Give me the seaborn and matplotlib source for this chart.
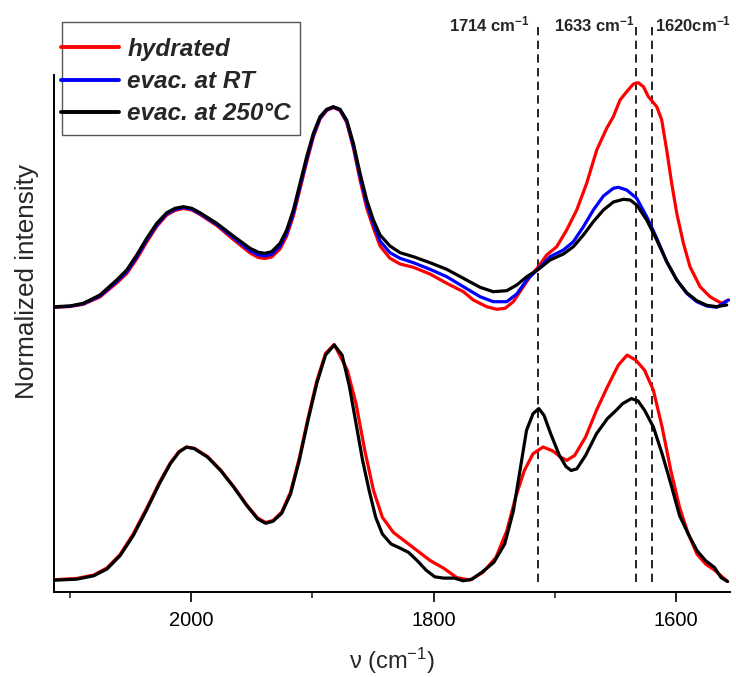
import numpy as np
import pandas as pd
import matplotlib
matplotlib.use("Agg")
import matplotlib.pyplot as plt
import seaborn as sns
from matplotlib.lines import Line2D
from matplotlib.patches import Rectangle
from matplotlib.ticker import FixedLocator
import matplotlib.transforms as mtransforms

# ---------------- data (wavenumber / normalized intensity) -------------
top_250_x = [2113, 2099.8, 2088.8, 2075.1, 2061.3, 2053, 2044.8, 2036.5, 2028.3, 2020, 2013.2, 2006.3,
             1999.4, 1992.6, 1978.8, 1965.1, 1951.3, 1944.5, 1939, 1933.5, 1926.6, 1921.1, 1915.6,
             1910.1, 1904.6, 1899.1, 1893.6, 1888.1, 1882.6, 1877.1, 1871.6, 1866.1, 1860.6, 1855.1,
             1849.6, 1844.1, 1835.9, 1827.6, 1816.6, 1802.9, 1789.1, 1775.4, 1761.6, 1750.7, 1739.6,
             1731.4, 1723.1, 1713.5, 1703.9, 1692.9, 1684.7, 1676.4, 1668.2, 1659.9, 1651.7, 1643.4,
             1637.9, 1632.4, 1624.2, 1615.9, 1607.7, 1599.4, 1591.2, 1582.9, 1574.7, 1566.4, 1558.2]
top_250_y = [285.3, 286, 288.7, 297, 312, 322, 337, 353.7, 368.7, 379.3, 383.7, 385.3,
             383.7, 379.3, 368.7, 356, 343.7, 339.7, 338.7, 340.3, 348.7, 362, 382,
             408.7, 435.3, 458.7, 475.3, 482.7, 485.3, 482.7, 472, 448.7, 418.7, 392,
             372, 357, 346, 339.3, 335.3, 329.3, 322.7, 313.7, 304.7, 300.3, 301.3,
             307, 315.3, 322.7, 332, 338, 345.3, 357, 370.3, 382, 390, 392.7,
             392, 387, 372, 352, 330.3, 312, 299.3, 291.3, 286.7, 285.3, 287]

top_rt_x = [2113, 2099.8, 2088.8, 2075.1, 2061.3, 2053, 2044.8, 2036.5, 2028.3, 2020, 2013.2, 2006.3,
            1999.4, 1992.6, 1978.8, 1965.1, 1951.3, 1944.5, 1939, 1933.5, 1926.6, 1921.1, 1915.6,
            1910.1, 1904.6, 1899.1, 1893.6, 1888.1, 1882.6, 1877.1, 1871.6, 1866.1, 1860.6, 1855.1,
            1849.6, 1844.1, 1835.9, 1827.6, 1816.6, 1802.9, 1789.1, 1775.4, 1761.6, 1750.7, 1739.6,
            1731.4, 1723.1, 1713.5, 1703.9, 1692.9, 1684.7, 1676.4, 1668.2, 1659.9, 1651.7, 1647.6,
            1640.7, 1632.4, 1624.2, 1615.9, 1607.7, 1599.4, 1591.2, 1582.9, 1574.7, 1566.4, 1556.8]
top_rt_y = [285, 285.8, 288.2, 296, 310.5, 320.3, 335, 352, 367, 378.2, 382.6, 384.4,
            382.8, 378.4, 367.6, 354.3, 341.3, 337.1, 336.1, 337.6, 345.8, 359, 379,
            405.8, 432.6, 456.8, 474.1, 482.1, 485, 482.1, 470.7, 446.3, 415.3, 388,
            368, 351, 339.3, 333.7, 329.3, 322.7, 315.3, 305.3, 295.3, 290.3, 290.3,
            298, 312, 323.3, 335.3, 342, 350.3, 365.3, 382, 396, 403.7, 404.7,
            402, 393.7, 375.3, 353.7, 330.3, 312, 298.7, 290.3, 286, 284.7, 292]

top_hyd_x = [2113, 2099.8, 2088.8, 2075.1, 2061.3, 2053, 2044.8, 2036.5, 2028.3, 2020, 2013.2, 2006.3,
             1999.4, 1992.6, 1978.8, 1965.1, 1951.3, 1944.5, 1939, 1933.5, 1926.6, 1921.1, 1915.6,
             1910.1, 1904.6, 1899.1, 1893.6, 1888.1, 1882.6, 1877.1, 1871.6, 1866.1, 1860.6, 1855.1,
             1849.6, 1844.1, 1835.9, 1827.6, 1816.6, 1802.9, 1789.1, 1775.4, 1767.2, 1756.2, 1747.9,
             1741, 1734.2, 1728.7, 1720.4, 1713.5, 1706.7, 1698.4, 1690.2, 1681.9, 1673.7, 1665.4,
             1657.2, 1651.7, 1646.2, 1640.7, 1635.2, 1631.1, 1626.9, 1622.8, 1615.9, 1611.8, 1607.7,
             1603.6, 1599.4, 1593.9, 1588.5, 1580.2, 1572, 1566.4, 1562.3, 1556.8]
top_hyd_y = [284.5, 285.5, 287.7, 295, 309, 318.5, 333, 350, 365.5, 377, 381.5, 383.5,
             382, 377.5, 366.5, 352.5, 339, 334.5, 333.5, 335, 343, 356, 376,
             403, 430, 455, 473, 481.5, 484.5, 481.5, 469.5, 444, 412, 384,
             364, 346, 333.7, 328, 324.7, 318, 308.7, 300.3, 292, 285.3, 282.7,
             283.7, 290.3, 300.3, 315.3, 325.3, 337, 345.3, 362, 382, 408.7, 442,
             463.7, 475.3, 492, 500.3, 508, 509.3, 505.3, 495.3, 485.3, 472, 442,
             408.7, 378.7, 348.7, 325.3, 305.3, 295.3, 291.3, 288.7, 292]

bot_250_x = [2112.6, 2094.6, 2080.2, 2069.4, 2058.5, 2047.7, 2036.9, 2026.1, 2017.1, 2009.9, 2003.7,
             1997.3, 1986.4, 1975.6, 1964.8, 1954, 1945, 1938.5, 1932.4, 1925.2, 1917.9, 1910.7,
             1903.5, 1896.3, 1889.1, 1881.9, 1875.4, 1869.3, 1863.9, 1858.5, 1853.1, 1847.7, 1842.2,
             1835, 1827.8, 1820.6, 1813.4, 1806.2, 1799, 1791.8, 1782.8, 1775.6, 1768.3, 1759.3,
             1750.3, 1741.3, 1734.1, 1728.7, 1723.3, 1717.9, 1713.2, 1708.9, 1703.4, 1696.2, 1690.8,
             1686.5, 1681.8, 1674.6, 1665.6, 1656.6, 1649.4, 1644, 1636.8, 1631.4, 1625.9, 1618.7,
             1611.5, 1604.3, 1597.1, 1589.9, 1582.7, 1575.5, 1568.3, 1562.9, 1557.5]
bot_250_y = [11.8, 12.8, 16.2, 22.9, 36.3, 56.3, 81.4, 108.2, 128.2, 139.9, 144.9,
             143.3, 134.9, 121.5, 104.8, 86.4, 73, 68.7, 70.7, 78.7, 98.1, 131.6,
             171.7, 208.5, 236.9, 247, 236.9, 205.1, 168.4, 131.6, 101.5, 74.7, 58,
             48, 44, 39.6, 31.3, 21.9, 15.2, 13.9, 13.9, 11.2, 12.8, 20.5,
             29.6, 48, 81.4, 121.5, 161.7, 178.4, 183.4, 176.7, 158.3, 136.6, 125.5,
             121.5, 123.2, 136.6, 158.3, 173.4, 181.7, 188.4, 193.4, 191.1, 181.7, 165,
             138.3, 108.2, 76.4, 58, 41.3, 31.2, 24.5, 14.5, 10.5]

bot_hyd_x = [2112.6, 2094.6, 2080.2, 2069.4, 2058.5, 2047.7, 2036.9, 2026.1, 2017.1, 2009.9, 2003.7,
             1997.3, 1986.4, 1975.6, 1964.8, 1954, 1945, 1938.5, 1932.4, 1925.2, 1917.9, 1910.7,
             1903.5, 1896.3, 1889.1, 1881.9, 1871.1, 1863.9, 1856.7, 1849.5, 1842.2, 1833.2, 1824.2,
             1813.4, 1802.6, 1791.8, 1781, 1770.1, 1759.3, 1748.5, 1739.5, 1732.3, 1725.1, 1717.9,
             1709.6, 1701.6, 1695.2, 1690.1, 1683.6, 1674.6, 1665.6, 1656.6, 1647.6, 1640.4, 1633.2,
             1626, 1618.7, 1611.5, 1604.3, 1597.1, 1589.9, 1582.7, 1575.5, 1568.3, 1557.5]
bot_hyd_y = [12.3, 13.5, 17, 24, 37.5, 58, 83, 109.5, 129, 140.5, 145,
             143.8, 135.5, 122, 105.5, 87, 74, 69.5, 71.5, 80, 100, 134,
             174, 211, 238.5, 247.5, 221.9, 188.4, 141.6, 101.5, 74.7, 59.7, 51.3,
             41.3, 31.3, 23.9, 14.5, 11.9, 19.6, 34.6, 61.4, 94.8, 121.5, 138.3,
             145, 141, 134.9, 131.6, 136.6, 155, 181.7, 205.1, 226.9, 236.9, 231.9,
             221.9, 201.8, 165, 121.5, 84.7, 58, 37.9, 27.9, 21.9, 10.5]

series_labels = ["hydrated", "evac. at RT", "evac. at 250°C"]
series_colors = ["#ff0000", "#0000ff", "#000000"]
marker_lines = [1714, 1633, 1620]
marker_texts = ["1714 cm$^{\\mathbf{-1}}$", "1633 cm$^{\\mathbf{-1}}$", "1620cm$^{\\mathbf{-1}}$"]
x_major = [2000, 1800, 1600]
x_minor = [2100, 1900, 1700]

# ---------------- style -------------
sns.set_style("ticks")
plt.rcParams["font.family"] = ["Liberation Sans", "DejaVu Sans"]
plt.rcParams["mathtext.fontset"] = "custom"
plt.rcParams["mathtext.rm"] = "Liberation Sans"
plt.rcParams["mathtext.it"] = "Liberation Sans:italic"
plt.rcParams["mathtext.bf"] = "Liberation Sans:bold"

W, H = 736, 677
fig = plt.figure(figsize=(W / 100, H / 100), dpi=100)
ax = fig.add_axes([54 / W, 1 - 592 / H, 676 / W, 517 / H])

curves = [
    (top_hyd_x, top_hyd_y, series_colors[0]),
    (top_rt_x, top_rt_y, series_colors[1]),
    (top_250_x, top_250_y, series_colors[2]),
    (bot_hyd_x, bot_hyd_y, series_colors[0]),
    (bot_250_x, bot_250_y, series_colors[2]),
]
for xs, ys, col in curves:
    df = pd.DataFrame({"wn": xs, "val": ys})
    sns.lineplot(data=df, x="wn", y="val", color=col, lw=2.3, estimator=None,
                 sort=False, ax=ax, legend=False)
for ln in ax.get_lines():
    ln.set_solid_joinstyle("round")
    ln.set_solid_capstyle("round")

ax.set_xlim(2113, 1555.5)
ax.set_ylim(0, 517)

# dashed marker lines extending above the axes
trans = mtransforms.blended_transform_factory(ax.transData, ax.transAxes)
for xv in marker_lines:
    ax.axvline(xv, ymin=0.019, ymax=1.10, clip_on=False, color="black", lw=1.2,
               linestyle=(0, (5.0, 3.2)), zorder=1)
ax.text(1720.5, 1.097, marker_texts[0], transform=trans, ha="right", va="center",
        fontsize=12, fontweight="bold")
ax.text(1633.8, 1.097, marker_texts[1], transform=trans, ha="right", va="center",
        fontsize=12, fontweight="bold")
ax.text(1617.0, 1.097, marker_texts[2], transform=trans, ha="left", va="center",
        fontsize=12, fontweight="bold")

# axes styling
for s in ["top", "right"]:
    ax.spines[s].set_visible(False)
for s in ["left", "bottom"]:
    ax.spines[s].set_linewidth(1.4)
    ax.spines[s].set_color("black")
ax.xaxis.set_major_locator(FixedLocator(x_major))
ax.xaxis.set_minor_locator(FixedLocator(x_minor))
ax.set_xticklabels([str(v) for v in x_major])
ax.tick_params(axis="x", which="major", direction="out", length=7.5, width=1.2,
               labelsize=14.5, pad=6, colors="black")
ax.tick_params(axis="x", which="minor", direction="out", length=4, width=1.2)
ax.set_yticks([])

ax.set_xlabel("ν (cm$^{-1}$)", fontsize=17)
ax.set_ylabel("Normalized intensity", fontsize=18.8)
ax.xaxis.set_label_coords(0.5, -0.105)
ax.yaxis.set_label_coords(-0.022, 0.60)

# legend: frame drawn as a figure rectangle, entries placed inside
fig.patches.append(Rectangle((62 / W, 1 - 135 / H), (300 - 62) / W, (135 - 22) / H,
                             transform=fig.transFigure, fill=True, facecolor="white",
                             edgecolor="#555555", lw=1.0, zorder=5))
handles = [Line2D([0], [0], color=c, lw=2.8) for c in series_colors]
leg = fig.legend(handles, series_labels, loc="upper left",
                 bbox_to_anchor=(61 / W, 1 - 38 / H), bbox_transform=fig.transFigure,
                 prop={"weight": "bold", "style": "italic", "size": 17.5},
                 frameon=False, borderpad=0, handlelength=2.4, handletextpad=0.33,
                 labelspacing=0.38, borderaxespad=0)
leg.set_zorder(6)

fig.savefig("out.png", dpi=100)
